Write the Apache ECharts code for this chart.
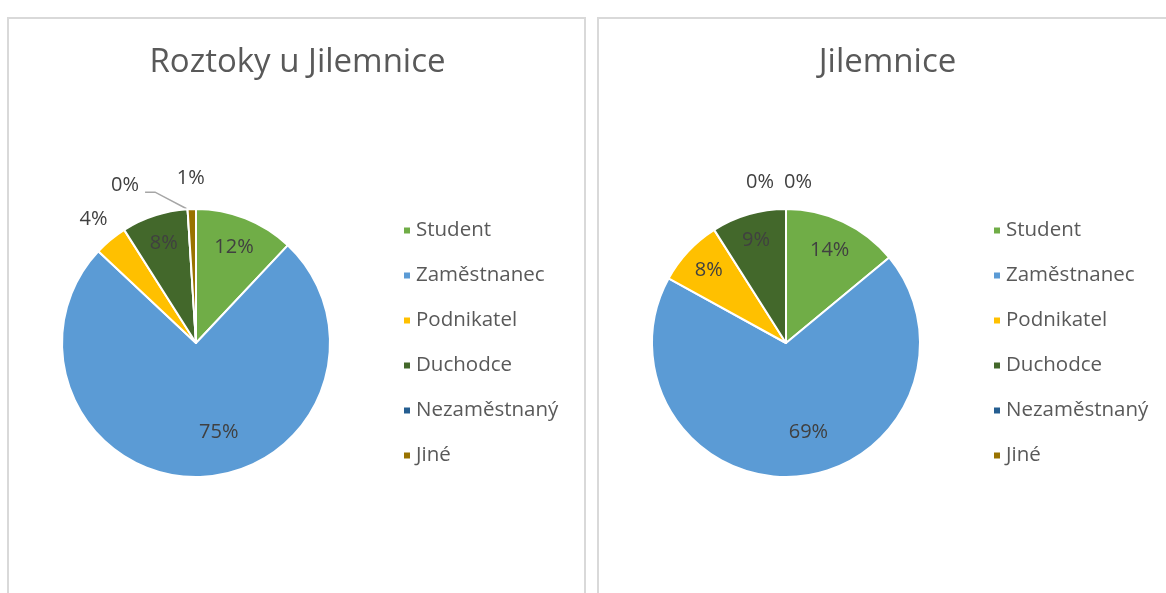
<!DOCTYPE html>
<html>
<head>
<meta charset="utf-8">
<script src="https://cdn.jsdelivr.net/npm/echarts@6/dist/echarts.min.js"></script>
<style>
  html, body { margin: 0; padding: 0; background: #ffffff; overflow: hidden; }
  body { width: 1166px; height: 593px; position: relative; }
  .chart { position: absolute; top: 17px; width: 579px; height: 576px; }
  .frame { position: absolute; top: 17px; width: 579px; height: 600px; box-sizing: border-box;
           border: 2px solid #d9d9d9; border-bottom: none; pointer-events: none; }
</style>
</head>
<body>
<div id="chart1" class="chart" style="left:8px"></div>
<div id="chart2" class="chart" style="left:598px"></div>
<div class="frame" style="left:7px"></div>
<div class="frame" style="left:597px"></div>
<script>
// datos
const categories = ['Student', 'Zaměstnanec', 'Podnikatel', 'Duchodce', 'Nezaměstnaný', 'Jiné'];
const roztokyValues = [12, 75, 4, 8, 0, 1];
const jilemniceValues = [14, 69, 8, 9, 0, 0];
const panelTitles = ['Roztoky u Jilemnice', 'Jilemnice'];

const palette = ['#70ad47', '#5b9bd5', '#ffc000', '#43682b', '#255e91', '#997300'];
const CX = 188, CY = 326, R = 134;
const FONT = '"Open Sans", Lato, sans-serif';

// posición de cada etiqueta: [fracción del radio, desplazamiento x]
const roztokySpots = [[0.77, 0], [0.67, 20], [1.2, 0], [0.78, 0], [1.18, -61], [1.23, 0]];
const jilemniceSpots = [[0.765, 0], [0.67, 14], [0.79, 0], [0.8, 0], [1.2, -26], [1.2, 12]];

function midAngle(values, i) {
  const total = values.reduce((a, b) => a + b, 0);
  let cum = 0;
  for (let k = 0; k < i; k++) cum += values[k];
  return (cum + values[i] / 2) / total * Math.PI * 2;
}

function buildOptions(title, values, spots, lineIndex) {
  return {
    animation: false,
    backgroundColor: 'transparent',
    color: palette,
    title: {
      text: title,
      left: 'center',
      top: 24,
      textStyle: { fontFamily: FONT, fontSize: 33, fontWeight: 'normal', color: '#595959' }
    },
    legend: {
      orient: 'vertical',
      left: 389,
      top: 198,
      icon: 'rect',
      itemWidth: 8,
      itemHeight: 8,
      itemGap: 24,
      data: categories,
      textStyle: { fontFamily: FONT, fontSize: 20.5, lineHeight: 20, color: '#595959', padding: [0, 0, 0, 0] }
    },
    series: [
      {
        type: 'pie',
        center: [CX, CY],
        radius: R,
        startAngle: 90,
        clockwise: true,
        avoidLabelOverlap: false,
        itemStyle: { borderColor: '#ffffff', borderWidth: 2 },
        label: {
          show: true,
          position: 'inside',
          fontFamily: FONT,
          fontSize: 20,
          color: '#404040',
          formatter: p => Math.round(p.percent) + '%'
        },
        labelLine: { show: false },
        labelLayout: function (params) {
          const i = params.dataIndex;
          const a = midAngle(values, i);
          const s = spots[i];
          const x = CX + s[0] * R * Math.sin(a) + s[1];
          const y = CY - s[0] * R * Math.cos(a);
          const out = { x: x, y: y, align: 'center', verticalAlign: 'middle' };
          if (i === lineIndex) {
            // guía quebrada como en el original
            out.labelLinePoints = [
              [CX + R * Math.sin(a), CY - R * Math.cos(a)],
              [x + 30, y + 7],
              [x + 20, y + 7]
            ];
          }
          return out;
        },
        data: categories.map((name, i) => {
          const item = { name: name, value: values[i] };
          if (i === lineIndex) {
            item.label = { position: 'outside' };
            item.labelLine = { show: true, length: 10, length2: 10, lineStyle: { color: '#a6a6a6', width: 1.5 } };
          }
          return item;
        })
      }
    ]
  };
}

function initCharts() {
  const chart1 = echarts.init(document.getElementById('chart1'));
  const chart2 = echarts.init(document.getElementById('chart2'));
  chart1.setOption(buildOptions(panelTitles[0], roztokyValues, roztokySpots, 4));
  chart2.setOption(buildOptions(panelTitles[1], jilemniceValues, jilemniceSpots, -1));
}

document.addEventListener('DOMContentLoaded', initCharts);
</script>
</body>
</html>
